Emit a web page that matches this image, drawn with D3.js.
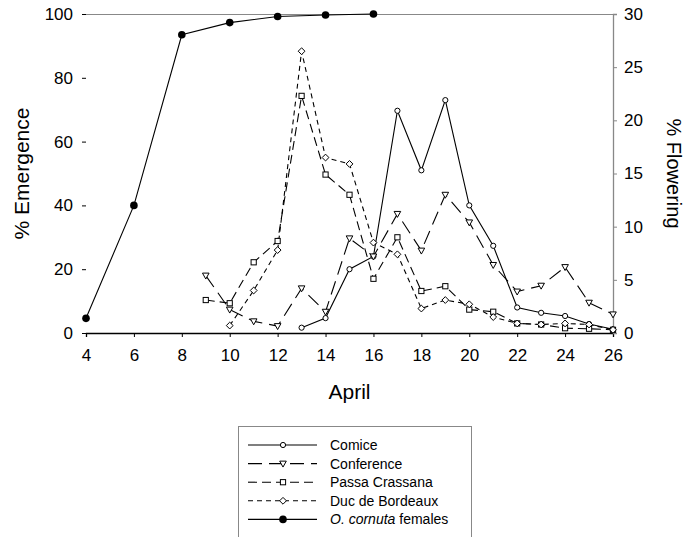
<!DOCTYPE html>
<html><head><meta charset="utf-8">
<script src="https://cdn.jsdelivr.net/npm/d3@7"></script>
<style>
html,body{margin:0;padding:0;background:#fff;}
svg{display:block;font-family:"Liberation Sans",Arial,sans-serif;}
</style></head>
<body><svg id="chart" width="686" height="537"></svg>
<script>
// ---- data ----
const emergenceDays = [4, 6, 8, 10, 12, 14, 16];
const emergenceVals = [4.6, 40, 93.5, 97.3, 99.2, 99.7, 100];

const comiceDays = [13,14,15,16,17,18,19,20,21,22,23,24,25,26];
const comiceVals = [0.5,1.4,6.0,7.2,20.9,15.3,21.9,12.0,8.2,2.4,1.9,1.6,0.85,0.35];

const conferenceDays = [9,10,11,12,13,14,15,16,17,18,19,20,21,22,23,24,25,26];
const conferenceVals = [5.4,2.2,1.1,0.65,4.2,2.0,8.9,7.2,11.2,7.75,13.0,10.4,6.4,3.9,4.45,6.2,2.85,1.75];

const passaDays = [9,10,11,12,13,14,15,16,17,18,19,20,21,22,23,24,25,26];
const passaVals = [3.1,2.8,6.65,8.65,22.3,14.9,13.0,5.1,9.0,3.95,4.4,2.2,2.0,0.9,0.8,0.45,0.4,0.3];

const ducDays = [10,11,12,13,14,15,16,17,18,19,20,21,22,23,24,25,26];
const ducVals = [0.7,4.0,7.8,26.5,16.5,15.9,8.5,7.4,2.3,3.1,2.7,1.5,0.9,0.8,0.9,0.8,0.3];

const xTicks = [4,6,8,10,12,14,16,18,20,22,24,26];
const leftTicks = [0,20,40,60,80,100];
const rightTicks = [0,5,10,15,20,25,30];
const legendLabels = ["Comice","Conference","Passa Crassana","Duc de Bordeaux","O. cornuta females"];

// ---- layout ----
const svg = d3.select("#chart");
const L = 86, R = 613, T = 14, B = 333;
const x = d3.scaleLinear().domain([4,26]).range([L,R]);
const yL = d3.scaleLinear().domain([0,100]).range([B,T]);
const yR = d3.scaleLinear().domain([0,30]).range([B,T]);

// frame: top gray
svg.append("line").attr("x1",L).attr("x2",R).attr("y1",T+0.5).attr("y2",T+0.5)
  .attr("stroke","#888").attr("stroke-width",1);

// bottom axis
const gx = svg.append("g").attr("transform",`translate(0,${B})`)
  .call(d3.axisBottom(x).tickValues(xTicks).tickSize(4).tickPadding(12).tickFormat(d3.format("d")));
gx.select(".domain").attr("stroke","#000").attr("stroke-width",1.3);
gx.selectAll(".tick line").attr("stroke","#000");
gx.selectAll("text").attr("font-size",17).attr("fill","#000").attr("font-family","Liberation Sans, Arial, sans-serif");

// left axis
const gl = svg.append("g").attr("transform",`translate(${L},0)`)
  .call(d3.axisLeft(yL).tickValues(leftTicks).tickSize(4).tickPadding(9));
gl.select(".domain").remove();
gl.selectAll(".tick line").attr("stroke","#000");
gl.selectAll("text").attr("font-size",17).attr("fill","#000").attr("font-family","Liberation Sans, Arial, sans-serif");

// right axis
const gr = svg.append("g").attr("transform",`translate(${R},0)`)
  .call(d3.axisRight(yR).tickValues(rightTicks).tickSize(4).tickPadding(7));
gr.select(".domain").attr("stroke","#888").attr("stroke-width",1.3);
gr.selectAll(".tick line").attr("stroke","#888");
gr.selectAll("text").attr("font-size",17).attr("fill","#000").attr("font-family","Liberation Sans, Arial, sans-serif");

// titles
svg.append("text").attr("x",(L+R)/2).attr("y",399).attr("text-anchor","middle")
  .attr("font-size",21).text("April");
svg.append("text").attr("transform",`translate(29,${(T+B)/2}) rotate(-90)`).attr("text-anchor","middle")
  .attr("font-size",21).text("% Emergence");
svg.append("text").attr("transform",`translate(667,${(T+B)/2}) rotate(90)`).attr("text-anchor","middle")
  .attr("font-size",20).text("% Flowering");

// ---- series ----
const series = [
  {name:legendLabels[0], days:comiceDays, vals:comiceVals, y:yR, dash:null, marker:"circle"},
  {name:legendLabels[1], days:conferenceDays, vals:conferenceVals, y:yR, dash:"14,7", marker:"triangle"},
  {name:legendLabels[2], days:passaDays, vals:passaVals, y:yR, dash:"9,5", marker:"square"},
  {name:legendLabels[3], days:ducDays, vals:ducVals, y:yR, dash:"5,4", marker:"diamond"},
  {name:legendLabels[4], days:emergenceDays, vals:emergenceVals, y:yL, dash:null, marker:"filled"}
];

function drawMarker(g, type, cx, cy){
  if(type==="circle"){
    g.append("circle").attr("cx",cx).attr("cy",cy).attr("r",2.6)
      .attr("fill","#fff").attr("stroke","#000").attr("stroke-width",1);
  } else if(type==="filled"){
    g.append("circle").attr("cx",cx).attr("cy",cy).attr("r",3.8).attr("fill","#000");
  } else if(type==="triangle"){
    const s=3.3;
    g.append("path").attr("d",`M${cx-s},${cy-s*0.75}L${cx+s},${cy-s*0.75}L${cx},${cy+s*1.05}Z`)
      .attr("fill","#fff").attr("stroke","#000").attr("stroke-width",1);
  } else if(type==="square"){
    const s=2.6;
    g.append("rect").attr("x",cx-s).attr("y",cy-s).attr("width",2*s).attr("height",2*s)
      .attr("fill","#fff").attr("stroke","#000").attr("stroke-width",1);
  } else if(type==="diamond"){
    const s=3.4;
    g.append("path").attr("d",`M${cx},${cy-s}L${cx+s},${cy}L${cx},${cy+s}L${cx-s},${cy}Z`)
      .attr("fill","#fff").attr("stroke","#000").attr("stroke-width",1);
  }
}

series.forEach(s=>{
  const pts = s.days.map((d,i)=>[x(d), s.y(s.vals[i])]);
  const p = svg.append("path").attr("d", d3.line()(pts))
    .attr("fill","none").attr("stroke","#000").attr("stroke-width",1.1);
  if(s.dash) p.attr("stroke-dasharray", s.dash);
});
series.forEach(s=>{
  const g = svg.append("g");
  s.days.forEach((d,i)=>drawMarker(g, s.marker, x(d), s.y(s.vals[i])));
});

// ---- legend ----
svg.append("rect").attr("x",238.5).attr("y",426.5).attr("width",233).attr("height",130)
  .attr("fill","none").attr("stroke","#888").attr("stroke-width",1);
series.forEach((s,i)=>{
  const cy = 445 + i*18.6;
  const g = svg.append("g");
  const ln = g.append("line").attr("x1",248).attr("x2",317).attr("y1",cy).attr("y2",cy)
    .attr("stroke","#000").attr("stroke-width",1.1);
  if(s.dash) ln.attr("stroke-dasharray", s.dash);
  drawMarker(g, s.marker, 283, cy);
  const t = g.append("text").attr("x",330).attr("y",cy).attr("dy","0.35em").attr("font-size",14);
  if(i===4){
    t.append("tspan").attr("font-style","italic").text("O. cornuta");
    t.append("tspan").text(" females");
  } else t.text(s.name);
});
</script></body></html>
